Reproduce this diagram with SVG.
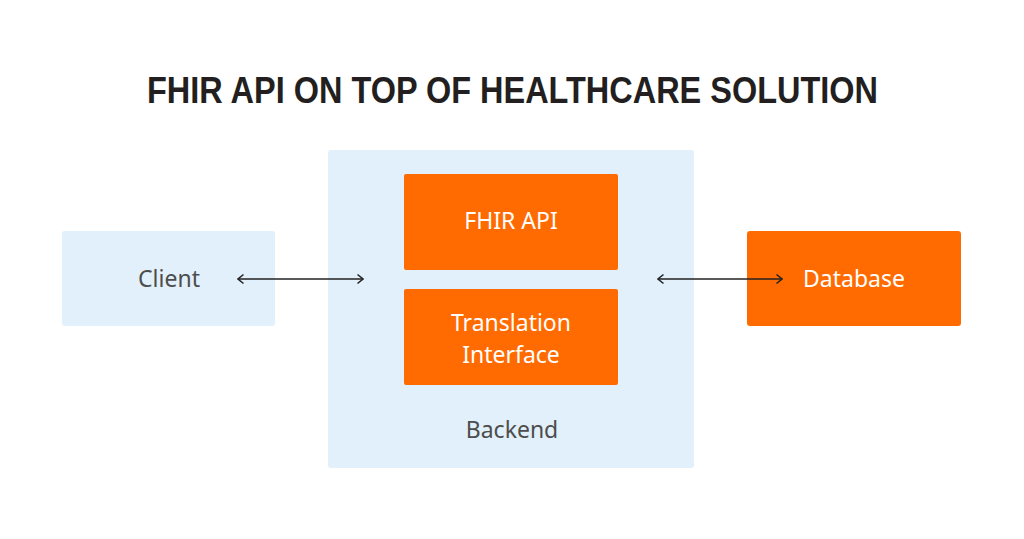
<svg xmlns="http://www.w3.org/2000/svg" width="1024" height="539" viewBox="0 0 1024 539">
<style>
.title{font-family:"Liberation Sans",Arial,sans-serif;font-weight:bold;font-size:37px;fill:#231f20}
.lbl{font-family:"Noto Sans","Liberation Sans",sans-serif;font-size:23px;text-anchor:middle}
.dark{fill:#4d4d4d}
.white{fill:#ffffff}
.blue{fill:#e2f0fb}
.orange{fill:#ff6b00}
.conn{stroke:#222;stroke-width:1.3;fill:none}
</style>
<defs>
<marker id="ah" viewBox="0 0 12 12" refX="11" refY="6" markerWidth="12" markerHeight="12" markerUnits="userSpaceOnUse" orient="auto-start-reverse">
<path d="M5.5,1.5 L11,6 L5.5,10.5" fill="none" stroke="#222" stroke-width="1.5"/>
</marker>
</defs>
<rect width="1024" height="539" fill="#ffffff"/>
<text class="title" x="147" y="103" textLength="731" lengthAdjust="spacingAndGlyphs">FHIR API ON TOP OF HEALTHCARE SOLUTION</text>
<g id="backend">
<rect class="blue" x="328" y="150" width="366" height="318" rx="3"/>
<text class="lbl dark" x="512" y="438">Backend</text>
</g>
<g id="client">
<rect class="blue" x="62" y="231" width="213" height="95" rx="3"/>
<text class="lbl dark" x="169" y="287">Client</text>
</g>
<g id="fhir-api">
<rect class="orange" x="404" y="174" width="214" height="96" rx="2"/>
<text class="lbl white" x="511" y="229">FHIR API</text>
</g>
<g id="translation">
<rect class="orange" x="404" y="289" width="214" height="96" rx="2"/>
<text class="lbl white" x="511" y="331">Translation</text>
<text class="lbl white" x="511" y="363">Interface</text>
</g>
<g id="database">
<rect class="orange" x="747" y="231" width="214" height="95" rx="3"/>
<text class="lbl white" x="854" y="287">Database</text>
</g>
<g id="connectors">
<line class="conn" x1="238" y1="279" x2="363" y2="279" marker-start="url(#ah)" marker-end="url(#ah)"/>
<line class="conn" x1="658" y1="279" x2="782" y2="279" marker-start="url(#ah)" marker-end="url(#ah)"/>
</g>
</svg>
